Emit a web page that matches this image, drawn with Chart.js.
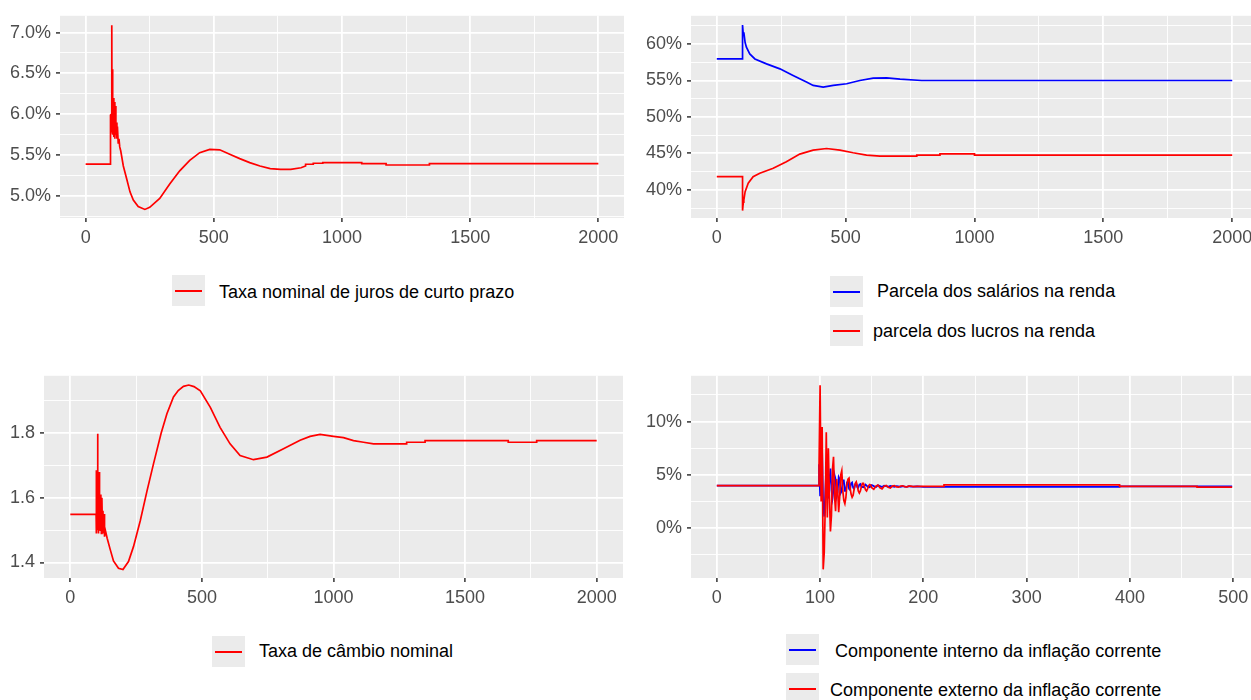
<!DOCTYPE html>
<html>
<head>
<meta charset="utf-8">
<script src="https://cdn.jsdelivr.net/npm/chart.js@4.4.1/dist/chart.umd.min.js"></script>
<style>
  html, body { margin: 0; padding: 0; background: #ffffff; overflow: hidden; }
  #page { position: relative; width: 1251px; height: 700px; overflow: hidden;
          font-family: "Liberation Sans", Arial, sans-serif; }
  canvas { position: absolute; }
  .key { position: absolute; width: 33px; height: 31px; background: #EBEBEB; }
  .key span { position: absolute; display: block; left: 3px; width: 27px; top: 15px; height: 0;
              border-top-width: 2px; border-top-style: solid; }
  .lab { position: absolute; font-size: 18px; line-height: 20px; height: 20px;
         color: #000000; white-space: nowrap; }
</style>
</head>
<body>
<div id="page">
  <canvas id="cJuros"   width="624" height="260" style="left:0px;top:0px"></canvas>
  <canvas id="cRenda"   width="627" height="260" style="left:631px;top:0px"></canvas>
  <canvas id="cCambio"  width="623" height="260" style="left:0px;top:360px"></canvas>
  <canvas id="cInflacao" width="628" height="260" style="left:631px;top:360px"></canvas>

  <div class="key" style="left:172px;top:275px"><span style="border-top-color:#FF0000"></span></div>
  <div class="lab" style="left:219px;top:282px">Taxa nominal de juros de curto prazo</div>

  <div class="key" style="left:830px;top:276px"><span style="border-top-color:#0000FF"></span></div>
  <div class="lab" style="left:877px;top:281px">Parcela dos salários na renda</div>
  <div class="key" style="left:830px;top:315px"><span style="border-top-color:#FF0000"></span></div>
  <div class="lab" style="left:873px;top:321px">parcela dos lucros na renda</div>

  <div class="key" style="left:212px;top:636px"><span style="border-top-color:#FF0000"></span></div>
  <div class="lab" style="left:259px;top:641px">Taxa de câmbio nominal</div>

  <div class="key" style="left:786px;top:634px"><span style="border-top-color:#0000FF"></span></div>
  <div class="lab" style="left:835px;top:641px">Componente interno da inflação corrente</div>
  <div class="key" style="left:786px;top:673px"><span style="border-top-color:#FF0000"></span></div>
  <div class="lab" style="left:830px;top:680px">Componente externo da inflação corrente</div>
</div>

<script>
// ---- Taxa nominal de juros de curto prazo (% a.a.) ----
const jurosT = [0, 97, 97, 100, 102, 103, 105, 106, 108, 110, 112, 114, 116, 118, 120, 122, 124, 127, 130, 133,
  137, 147, 160, 173, 186, 205, 231, 250, 289, 328, 367, 406, 445, 484, 523, 562, 601, 640, 680, 720,
  760, 800, 840, 858, 858, 888, 888, 925, 925, 1077, 1077, 1172, 1172, 1341, 1341, 2000];
const jurosV = [5.39, 5.39, 5.99, 6.0, 7.09, 5.8, 6.55, 5.75, 6.2, 5.72, 6.15, 5.7, 6.1, 5.75, 5.9, 5.7, 5.85, 5.65, 5.7, 5.6,
  5.55, 5.367, 5.21, 5.05, 4.95, 4.87, 4.835, 4.86, 4.97, 5.145, 5.307, 5.436, 5.53, 5.57, 5.565, 5.51, 5.457, 5.408, 5.367, 5.335,
  5.325, 5.325, 5.345, 5.367, 5.388, 5.388, 5.40, 5.40, 5.408, 5.408, 5.396, 5.396, 5.379, 5.379, 5.396, 5.396];

// ---- Distribuição funcional da renda (%) ----
const salariosT = [0, 100, 100, 103, 105, 110, 115, 128, 148, 193, 245, 296, 348, 374, 413, 452, 504, 555, 607, 659, 711, 795, 2000];
const salariosV = [57.95, 57.95, 62.6, 61.2, 61.6, 60.2, 59.55, 58.63, 57.95, 57.27, 56.59, 55.68, 54.77, 54.31, 54.08, 54.31,
  54.54, 54.99, 55.31, 55.36, 55.17, 54.99, 54.99];
const lucrosT = [0, 100, 100, 103, 105, 110, 122, 141, 167, 219, 270, 322, 374, 426, 478, 529, 581, 633, 776, 776, 866, 866,
  1000, 1000, 2000];
const lucrosV = [41.8, 41.8, 37.16, 38.3, 38.6, 39.76, 40.9, 41.8, 42.27, 42.95, 43.85, 44.9, 45.44, 45.67, 45.44, 45.08,
  44.76, 44.63, 44.63, 44.76, 44.76, 44.94, 44.94, 44.76, 44.76];

// ---- Taxa de câmbio nominal ----
const cambioT = [0, 98, 98, 100, 102, 104, 104.5, 106, 107, 109, 110, 112, 114, 116, 118, 120, 122, 124, 126, 128,
  130, 133, 140, 152, 164, 183, 200, 221, 240, 266, 291, 316, 345, 367, 392, 410, 430, 450, 470, 494,
  532, 569, 607, 645, 696, 747, 810, 873, 911, 949, 1000, 1038, 1076, 1114, 1152, 1278, 1278, 1348, 1348, 1664,
  1664, 1772, 1772, 2000];
const cambioV = [1.549, 1.549, 1.685, 1.49, 1.685, 1.798, 1.50, 1.68, 1.49, 1.68, 1.5, 1.61, 1.5, 1.61, 1.49, 1.6, 1.5, 1.56, 1.49, 1.55,
  1.48, 1.5, 1.475, 1.439, 1.405, 1.382, 1.378, 1.403, 1.449, 1.53, 1.62, 1.705, 1.80, 1.86, 1.912, 1.932, 1.945, 1.949, 1.944, 1.931,
  1.88, 1.818, 1.767, 1.731, 1.718, 1.726, 1.752, 1.778, 1.79, 1.796, 1.79, 1.786, 1.777, 1.772, 1.767, 1.767, 1.772, 1.772, 1.777, 1.777,
  1.772, 1.772, 1.777, 1.777];

// ---- Componentes da inflação corrente (%) ----
const internoT = [0, 99, 99,
  100, 101, 102, 103, 104, 105, 106, 107, 108, 109, 110, 111, 112, 113, 114, 115, 116, 117, 118, 119,
  120, 121, 122, 123, 124, 125, 126, 127, 128, 129, 130, 131, 132, 133, 134, 135, 136, 137, 138, 139, 140,
  142, 144, 146, 148, 150, 152, 154, 156, 158, 160, 162, 164, 166, 168, 170, 172, 174, 176, 178, 180,
  182, 184, 186, 188, 190, 194, 200, 390, 390, 499];
const internoV = [4.0, 4.0, 6.0,
  3.0, 6.0, 7.2, 2.0, 1.1, 3.2, 5.7, 4.2, 2.8, 4.4, 5.6, 3.6, 2.8, 3.6, 5.0, 4.6, 3.0, 3.4, 4.8, 4.6,
  3.3, 3.5, 4.5, 4.5, 3.5, 3.5, 4.3, 4.4, 3.7, 3.6, 4.2, 4.3, 3.8, 3.7, 4.1, 4.2, 3.85, 3.8, 4.1, 4.15, 3.9,
  3.85, 4.1, 3.9, 3.85, 4.05, 3.95, 3.85, 4.03, 3.95, 3.87, 4.0, 3.95, 3.88, 3.98, 3.93, 3.88, 3.96, 3.92, 3.89, 3.95,
  3.9, 3.89, 3.94, 3.9, 3.9, 3.92, 3.88, 3.88, 3.92, 3.92];
const externoT = [0, 99, 99,
  100, 101, 102, 103, 104, 105, 106, 107, 108, 109, 110, 111, 112, 113, 114, 115, 116, 117, 118, 119,
  120, 121, 122, 123, 124, 125, 126, 127, 128, 129, 130, 131, 132, 133, 134, 135, 136, 137, 138, 139,
  140, 141, 142, 143, 144, 145, 146, 147, 148, 149, 150,
  152, 154, 156, 158, 160, 162, 164, 166, 168, 170, 172, 174, 176, 178, 180, 182, 184, 186, 188, 190,
  194, 200, 220, 220, 390, 390, 465, 465, 499];
const externoV = [4.0, 4.0, 6.0,
  13.4, 2.5, 9.5, -3.85, -2.3, 2.0, 9.0, 1.0, 7.5, 3.0, -0.3, 1.2, 5.5, 6.7, 3.0, 1.6, 4.6, 3.6, 1.5, 3.0,
  5.0, 5.4, 3.5, 2.6, 2.3, 2.9, 4.1, 4.6, 4.7, 3.8, 3.2, 2.9, 3.1, 3.7, 4.2, 4.35, 4.0, 3.5, 3.3, 3.5,
  3.9, 4.2, 4.2, 3.9, 3.6, 3.5, 3.7, 4.0, 4.1, 4.05, 3.8,
  3.65, 3.95, 4.05, 3.8, 3.7, 3.95, 4.02, 3.85, 3.78, 3.95, 4.0, 3.88, 3.85, 3.96, 3.98, 3.9, 3.88, 3.95, 3.96, 3.9,
  3.93, 3.92, 3.92, 4.06, 4.06, 3.92, 3.92, 3.86, 3.86];

// ---- Axis breaks ----
const xMajor2000 = [0, 500, 1000, 1500, 2000];
const xMinor2000 = [250, 750, 1250, 1750];
const xMajor500 = [0, 100, 200, 300, 400, 500];
const xMinor500 = [50, 150, 250, 350, 450];
const yMajorJuros = [5.0, 5.5, 6.0, 6.5, 7.0];
const yMinorJuros = [4.75, 5.25, 5.75, 6.25, 6.75];
const yMajorRenda = [40, 45, 50, 55, 60];
const yMinorRenda = [37.5, 42.5, 47.5, 52.5, 57.5, 62.5];
const yMajorCambio = [1.4, 1.6, 1.8];
const yMinorCambio = [1.5, 1.7, 1.9];
const yMajorInfl = [0, 5, 10];
const yMinorInfl = [-2.5, 2.5, 7.5, 12.5];

const FONT = '"Liberation Sans", Arial, sans-serif';
const RED = '#FF0000';
const BLUE = '#0000FF';

const pts = (t, v) => t.map((x, i) => ({ x: x, y: v[i] }));

// grey panel behind the grid, ggplot style
const panelBg = {
  id: 'panelBg',
  beforeDraw(chart) {
    const { ctx, chartArea: a } = chart;
    ctx.save();
    ctx.fillStyle = '#EBEBEB';
    ctx.fillRect(a.left, a.top, a.right - a.left, a.bottom - a.top);
    ctx.restore();
  }
};

function axis(min, max, majors, minors, fmt, size) {
  const isMajor = v => majors.indexOf(v) >= 0;
  return {
    type: 'linear', min: min, max: max,
    afterBuildTicks: s => {
      s.ticks = majors.concat(minors)
        .filter(v => v >= min && v <= max)
        .sort((a, b) => a - b)
        .map(v => ({ value: v }));
    },
    ticks: {
      autoSkip: false, maxRotation: 0, minRotation: 0, padding: 5,
      color: '#4D4D4D', font: { family: FONT, size: 18 },
      callback: v => isMajor(v) ? fmt(v) : ''
    },
    grid: {
      color: '#FFFFFF',
      lineWidth: c => (c.tick && isMajor(c.tick.value)) ? 1.8 : 0.9,
      tickColor: c => (c.tick && isMajor(c.tick.value)) ? '#333333' : 'rgba(0,0,0,0)',
      tickLength: 4, tickWidth: 1.5, drawTicks: true, drawOnChartArea: true
    },
    border: { display: false },
    afterFit: s => { if (s.isHorizontal()) { s.height = size; } else { s.width = size; } }
  };
}

function line(t, v, color, order) {
  return { data: pts(t, v), borderColor: color, borderWidth: 1.7, pointRadius: 0,
           tension: 0, fill: false, order: order };
}

function panel(id, datasets, xs, ys) {
  new Chart(document.getElementById(id), {
    type: 'line',
    data: { datasets: datasets },
    options: {
      responsive: false, animation: false, devicePixelRatio: 1,
      events: [],
      layout: { padding: { top: 15, left: 0, right: 0, bottom: 0 } },
      plugins: { legend: { display: false }, tooltip: { enabled: false } },
      scales: { x: xs, y: ys }
    },
    plugins: [panelBg]
  });
}

const pct1 = v => v.toFixed(1) + '%';
const pct0 = v => v.toFixed(0) + '%';
const plain = v => String(v);

panel('cJuros',
  [line(jurosT, jurosV, RED, 0)],
  axis(-100, 2100, xMajor2000, xMinor2000, plain, 42),
  axis(4.73, 7.205, yMajorJuros, yMinorJuros, pct1, 60));

panel('cRenda',
  [line(salariosT, salariosV, BLUE, 1), line(lucrosT, lucrosV, RED, 0)],
  axis(-100, 2100, xMajor2000, xMinor2000, plain, 42),
  axis(36.14, 63.86, yMajorRenda, yMinorRenda, pct0, 60));

panel('cCambio',
  [line(cambioT, cambioV, RED, 0)],
  axis(-100, 2100, xMajor2000, xMinor2000, plain, 42),
  axis(1.352, 1.9775, yMajorCambio, yMinorCambio, v => v.toFixed(1), 44));

panel('cInflacao',
  [line(internoT, internoV, BLUE, 1), line(externoT, externoV, RED, 0)],
  axis(-25, 525, xMajor500, xMinor500, plain, 42),
  axis(-4.66, 14.29, yMajorInfl, yMinorInfl, pct0, 60));
</script>
</body>
</html>
